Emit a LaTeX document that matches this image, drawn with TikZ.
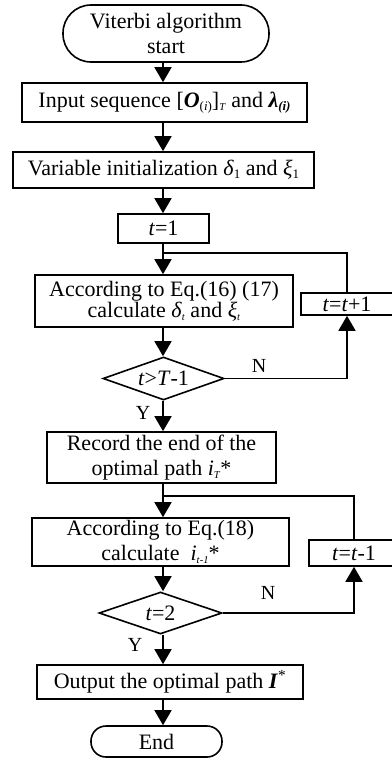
\documentclass[tikz,border=0pt]{standalone}
\usepackage{fontspec}
\setmainfont{Liberation Serif}
\usetikzlibrary{arrows.meta,shapes.geometric}
\newcommand{\lsub}[1]{\raisebox{-0.25ex}{\fontsize{13}{13}\selectfont #1}}
\newcommand{\tsub}[1]{\raisebox{-0.3ex}{\fontsize{10.5}{10.5}\selectfont #1}}
\begin{document}
\begin{tikzpicture}[x=1pt,y=-1pt,
  font=\fontsize{22}{25}\selectfont, line width=1.6pt,
  box/.style={draw, rectangle, inner sep=0pt, align=center},
  term/.style={draw, rectangle, rounded corners=#1, inner sep=0pt, align=center},
  dia/.style={draw, diamond, aspect=2.8, inner sep=0pt},
  arr/.style={-{Triangle[length=15pt,width=17pt]}},
  lab/.style={font=\fontsize{20}{20}\selectfont, inner sep=0pt}]
\useasboundingbox (0,0) rectangle (391,759);
\coordinate (ax) at (163,0);
\coordinate (j1) at (163,253);
\coordinate (j2) at (163,496);

\node[term=28pt, minimum width=206pt, minimum height=57pt] (start) at (166,33.5) {Viterbi algorithm\\start};
\node[box, minimum width=285pt, minimum height=39pt] (input) at (164.5,102.5)
  {Input sequence [\textbf{\textit{O}}\lsub{(\textit{i})}]\tsub{\textit{T}} and \textbf{\textit{λ}}\lsub{\textbf{\textit{(i)}}}};
\node[box, minimum width=301pt, minimum height=36pt] (var) at (163.5,170)
  {Variable initialization \textit{δ}\lsub{1} and \textit{ξ}\lsub{1}};
\node[box, minimum width=91pt, minimum height=29pt] (t1) at (163.5,228.5) {\textit{t}=1};
\node[box, minimum width=258pt, minimum height=52pt, font=\fontsize{22}{20}\selectfont] (acc1) at (164,301)
  {According to Eq.(16) (17)\\calculate \textit{δ}\tsub{\textit{t}} and \textit{ξ}\tsub{\textit{t}}};
\node[box, minimum width=92pt, minimum height=22pt] (tp1) at (347,304) {\textit{t}=\textit{t}+1};
\node[dia, minimum width=121pt, minimum height=43pt] (d1) at (163.5,378.5) {\textit{t}>\textit{T}-1};
\node[box, minimum width=229pt, minimum height=51pt] (rec) at (161.5,457.5)
  {Record the end of the\\optimal path \textit{i}\tsub{\textit{T}}*};
\node[box, minimum width=257pt, minimum height=48pt] (acc2) at (160.5,542)
  {According to Eq.(18)\\calculate ~\textit{i}\tsub{\textit{t}-\textit{1}}*};
\node[box, minimum width=90pt, minimum height=26pt] (tm1) at (354,553) {\textit{t}=\textit{t}-1};
\node[dia, minimum width=123pt, minimum height=42pt] (d2) at (160.5,613) {\textit{t}=2};
\node[box, minimum width=266pt, minimum height=34pt] (out) at (170,682)
  {Output the optimal path \textbf{\textit{I}}\textsuperscript{*}};
\node[term=15pt, minimum width=131pt, minimum height=31pt] (end) at (156.5,741.5) {End};

\draw[arr] (start.south -| ax) -- (input.north -| ax);
\draw[arr] (input.south -| ax) -- (var.north -| ax);
\draw[arr] (var.south -| ax) -- (t1.north -| ax);
\draw[arr] (t1.south -| ax) -- (acc1.north -| ax);
\draw[arr] (acc1.south -| ax) -- (d1.north -| ax);
\draw[arr] (d1.south -| ax) -- (rec.north -| ax);
\draw[arr] (rec.south -| ax) -- (acc2.north -| ax);
\draw[arr] (acc2.south -| ax) -- (d2.north -| ax);
\draw[arr] (d2.south -| ax) -- (out.north -| ax);
\draw[arr] (out.south -| ax) -- (end.north -| ax);

\draw[arr] (d1.east) -| (tp1.south);
\draw (tp1.north) |- (j1);
\draw[arr] (d2.east) -| (tm1.south);
\draw (tm1.north) |- (j2);

\node[lab] (n1) at (259,366) {N};
\node[lab] (y1) at (143,413) {Y};
\node[lab] (n2) at (268,593) {N};
\node[lab] (y2) at (135,645) {Y};
\end{tikzpicture}
\end{document}
